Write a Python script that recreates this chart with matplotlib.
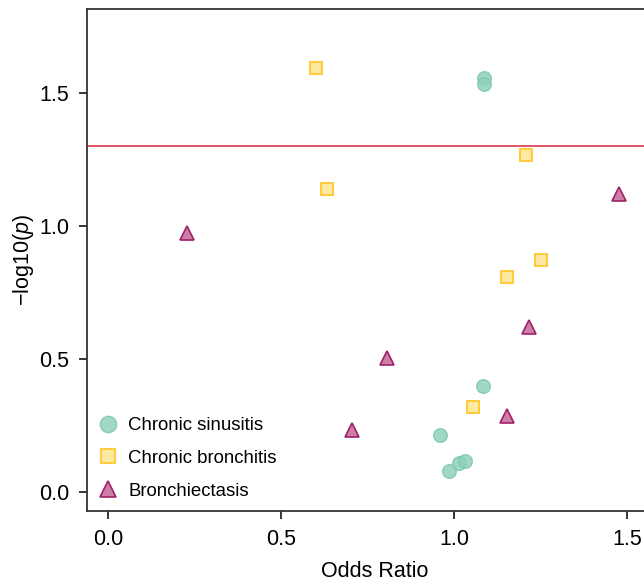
import matplotlib
matplotlib.use("Agg")
import matplotlib.pyplot as plt

plt.rcParams['font.family'] = ['Liberation Sans', 'DejaVu Sans']
plt.rcParams['mathtext.fontset'] = 'custom'
plt.rcParams['mathtext.rm'] = 'Liberation Sans'
plt.rcParams['mathtext.it'] = 'Liberation Sans:italic'

# odds ratio and -log10(p) per disease
sinusitis_or = [1.087, 1.085, 1.082, 0.959, 0.985, 1.012, 1.031]
sinusitis_p = [1.557, 1.535, 0.401, 0.214, 0.079, 0.109, 0.118]

bronchitis_or = [0.600, 0.631, 1.207, 1.250, 1.152, 1.053]
bronchitis_p = [1.597, 1.139, 1.269, 0.872, 0.809, 0.320]

bronchiectasis_or = [0.227, 1.476, 1.217, 0.806, 0.704, 1.153]
bronchiectasis_p = [0.974, 1.121, 0.623, 0.504, 0.234, 0.288]

threshold = 1.301  # -log10(0.05)

fig = plt.figure(figsize=(6.44, 5.82), dpi=100)
ax = fig.add_axes([0.135, 0.1225, 0.893, 0.862])

ax.plot(sinusitis_or, sinusitis_p, 'o', ms=9.8, mfc='#8fd0bb', mec='#7dc8af',
        alpha=0.85, mew=1, ls='none', label='Chronic sinusitis')
ax.plot(bronchitis_or, bronchitis_p, 's', ms=8.0, mfc='#ffe8a0', mec='#ffc72c',
        mew=1.3, ls='none', label='Chronic bronchitis')
ax.plot(bronchiectasis_or, bronchiectasis_p, '^', ms=9.5, mfc='#cc80a8', mec='#a0206a',
        mew=1.2, ls='none', label='Bronchiectasis')

ax.axhline(threshold, color='#d7263d', lw=1.1)

ax.set_xlim(-0.0616, 1.6)
ax.set_ylim(-0.069, 1.817)
ax.set_xticks([0.0, 0.5, 1.0, 1.5])
ax.set_yticks([0.0, 0.5, 1.0, 1.5])
ax.set_xticklabels(['0.0', '0.5', '1.0', '1.5'])
ax.set_yticklabels(['0.0', '0.5', '1.0', '1.5'])
ax.tick_params(labelsize=15.5, length=6, width=1.1, direction='out', pad=7)

for side in ['left', 'bottom', 'top']:
    ax.spines[side].set_linewidth(1.3)
    ax.spines[side].set_color('#333333')
ax.spines['right'].set_visible(False)

ax.set_xlabel('Odds Ratio', fontsize=15.5, labelpad=8)
ax.set_ylabel(r'$-$log10($\mathit{p}$)', fontsize=15.5, labelpad=2)

ax.legend(loc='lower left', frameon=False, fontsize=13.4, markerscale=1.2,
          handletextpad=0.5, labelspacing=0.85, borderaxespad=0.0,
          handlelength=1.2, bbox_to_anchor=(0.0035, 0.007))

fig.savefig('out.png', dpi=100)
